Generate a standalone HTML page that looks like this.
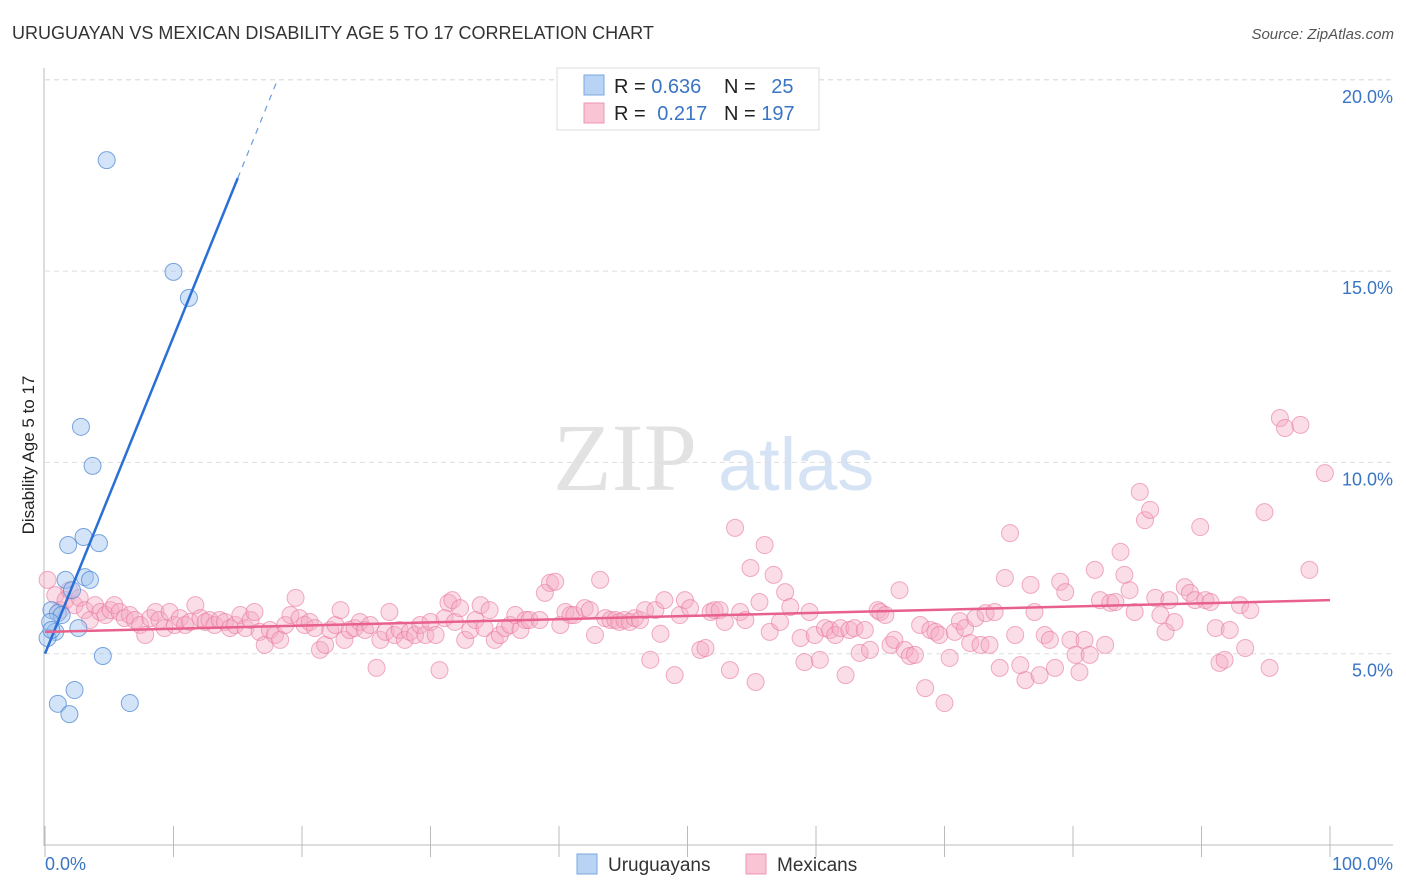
<!DOCTYPE html>
<html><head><meta charset="utf-8"><style>
body{margin:0;background:#fff;font-family:"Liberation Sans",sans-serif;}
svg{display:block}
</style></head><body>
<svg id="chart" width="1406" height="892" xmlns="http://www.w3.org/2000/svg">
<text x="12" y="39" font-size="18" fill="#333">URUGUAYAN VS MEXICAN DISABILITY AGE 5 TO 17 CORRELATION CHART</text>
<text x="1394" y="39" font-size="15" fill="#555" font-style="italic" text-anchor="end">Source: ZipAtlas.com</text>
<g>
<text x="553" y="490" font-family="Liberation Serif,serif" font-size="96" fill="#e2e2e2">ZIP</text>
<text x="718" y="490" font-size="74" fill="#d6e3f5">atlas</text>
</g>
<g id="grid"></g>
<g id="axes"></g>
<g id="pink"></g>
<g id="blue"></g>
<g id="trends"></g>
<text x="34" y="455" font-size="17" fill="#222" text-anchor="middle" transform="rotate(-90 34 455)">Disability Age 5 to 17</text>
<g>
<rect x="557" y="68" width="262" height="62" fill="#fff" stroke="#ddd"/>
<rect x="584" y="75" width="20" height="20" fill="#b9d3f4" stroke="#7aa7e0"/>
<rect x="584" y="103" width="20" height="20" fill="#f9c4d3" stroke="#ee95b0"/>
<text x="614" y="93" font-size="20" fill="#222">R = <tspan fill="#3a75c4">0.636</tspan></text>
<text x="724" y="93" font-size="20" fill="#222">N = <tspan fill="#3a75c4" dx="10">25</tspan></text>
<text x="614" y="120" font-size="20" fill="#222">R = <tspan fill="#3a75c4" dx="6">0.217</tspan></text>
<text x="724" y="120" font-size="20" fill="#222">N = <tspan fill="#3a75c4">197</tspan></text>
</g>
<g>
<rect x="577" y="854" width="20" height="20" fill="#b9d3f4" stroke="#7aa7e0"/>
<text x="608" y="871" font-size="19" fill="#333">Uruguayans</text>
<rect x="746" y="854" width="20" height="20" fill="#f9c4d3" stroke="#ee95b0"/>
<text x="777" y="871" font-size="19" fill="#333">Mexicans</text>
</g>
</svg>
<script>
const yTicks=[5,10,15,20];
const yTickLabels=["5.0%","10.0%","15.0%","20.0%"];
const xLabels=["0.0%","100.0%"];
const blueX=[4.8,10.0,11.2,2.8,3.7,3.0,1.8,4.2,3.1,3.5,1.6,0.5,1.0,1.3,0.4,0.8,0.2,0.5,2.1,2.6,4.5,2.3,1.0,1.9,6.6];
const blueY=[17.90,14.98,14.30,10.93,9.91,8.05,7.84,7.89,7.00,6.93,6.93,6.14,6.06,6.01,5.83,5.57,5.41,5.62,6.66,5.67,4.94,4.05,3.69,3.42,3.71];
const pinkX=[0.2,0.8,1.2,1.6,1.9,2.3,2.7,3.1,3.5,3.9,4.3,4.7,5.1,5.4,5.8,6.2,6.6,7.0,7.4,7.8,8.2,8.6,8.9,9.3,9.7,10.1,10.5,10.9,11.3,11.7,12.1,12.5,12.8,13.2,13.6,14.0,14.4,14.8,15.2,15.6,16.0,16.3,16.7,17.1,17.5,17.9,18.3,18.7,19.1,19.5,19.8,20.2,20.6,21.0,21.4,21.8,22.2,22.6,23.0,23.3,23.7,24.1,24.5,24.9,25.3,25.8,26.1,26.5,26.8,27.2,27.6,28.0,28.4,28.8,29.2,29.6,30.0,30.4,30.7,31.1,31.4,31.7,31.9,32.3,32.7,33.1,33.5,33.9,34.2,34.6,35.0,35.4,35.8,36.2,36.6,37.0,37.4,37.7,38.5,38.9,39.3,39.7,40.1,40.5,40.9,41.2,42.0,42.4,42.8,43.2,43.6,44.0,44.4,44.7,45.1,45.5,45.9,46.3,46.7,47.1,47.5,47.9,48.2,49.0,49.4,49.8,50.2,51.0,51.4,51.8,52.1,52.5,52.9,53.3,53.7,54.1,54.5,54.9,55.3,55.6,56.0,56.4,56.7,57.2,57.6,58.0,58.8,59.1,59.5,59.9,60.3,60.7,61.1,61.5,61.9,62.3,62.6,63.0,63.4,63.8,64.2,64.8,65.0,65.4,65.8,66.1,66.5,66.9,67.3,67.7,68.1,68.5,68.9,69.3,69.6,70.0,70.4,70.8,71.2,71.6,72.0,72.4,72.8,73.2,73.5,73.9,74.3,74.7,75.1,75.5,75.9,76.3,76.7,77.0,77.4,77.8,78.2,78.6,79.0,79.4,79.8,80.2,80.5,80.9,81.3,81.7,82.1,82.5,82.9,83.3,83.7,84.0,84.4,84.8,85.2,85.6,86.0,86.4,86.8,87.2,87.5,87.9,88.7,89.1,89.5,89.9,90.3,90.7,91.1,91.4,91.8,92.2,93.0,93.4,93.8,94.9,95.3,96.1,96.5,97.7,98.4,99.6];
const pinkY=[6.93,6.53,6.14,6.40,6.66,6.27,6.46,6.14,5.88,6.27,6.09,6.01,6.14,6.27,6.09,5.93,6.01,5.88,5.75,5.49,5.93,6.09,5.88,5.67,6.09,5.75,5.93,5.75,5.83,6.27,5.93,5.83,5.88,5.75,5.88,5.83,5.67,5.75,6.01,5.67,5.88,6.09,5.57,5.23,5.62,5.49,5.36,5.75,6.01,6.46,5.93,5.75,5.83,5.67,5.10,5.23,5.62,5.75,6.14,5.36,5.62,5.67,5.83,5.62,5.75,4.63,5.36,5.57,6.09,5.49,5.62,5.36,5.57,5.49,5.75,5.49,5.83,5.49,4.57,5.93,6.33,6.40,5.83,6.19,5.36,5.62,5.88,6.27,5.67,6.14,5.36,5.49,5.67,5.75,6.01,5.62,5.88,5.88,5.88,6.59,6.85,6.88,5.75,6.09,6.01,6.01,6.19,6.14,5.49,6.93,5.93,5.88,5.88,5.83,5.88,5.83,5.93,5.88,6.14,4.84,6.14,5.52,6.40,4.44,6.01,6.40,6.19,5.10,5.15,6.09,6.14,6.14,5.83,4.57,8.29,6.09,5.88,7.24,4.26,6.35,7.84,5.57,7.06,5.83,6.61,6.22,5.41,4.78,6.09,5.49,4.84,5.67,5.62,5.49,5.67,4.44,5.62,5.67,5.02,5.62,5.10,6.14,6.09,6.01,5.23,5.36,6.66,5.10,4.94,4.97,5.75,4.10,5.62,5.57,5.49,3.71,4.89,5.57,5.85,5.67,5.28,5.93,5.23,6.06,5.23,6.09,4.63,6.98,8.15,5.49,4.70,4.31,6.80,6.09,4.44,5.49,5.36,4.63,6.88,6.61,5.36,4.97,4.52,5.36,4.97,7.19,6.40,5.23,6.33,6.35,7.66,7.06,6.66,6.09,9.23,8.49,8.76,6.46,6.01,5.57,6.40,5.83,6.74,6.59,6.40,8.31,6.40,6.35,5.67,4.76,4.84,5.62,6.27,5.15,6.14,8.70,4.63,11.16,10.90,10.98,7.19,9.72];
const blueTrend=[0,5.0,15,17.43,18,19.92];
const pinkTrend=[0,5.57,100,6.40];

const NS="http://www.w3.org/2000/svg";
const X0=45,X1=1330,Y0=845,PXY=38.26;
function sx(v){return X0+(X1-X0)*v/100;}
function sy(v){return Y0-v*PXY;}
function mk(tag,attrs,parent){const e=document.createElementNS(NS,tag);for(const k in attrs)e.setAttribute(k,attrs[k]);document.getElementById(parent).appendChild(e);return e;}

yTicks.forEach((t,i)=>{
  const l=mk('line',{x1:45,x2:1393,y1:sy(t),y2:sy(t),stroke:'#ddd','stroke-dasharray':'5,4'},'grid');
  
  
  const tx=mk('text',{x:1393,y:sy(t)+23,'font-size':18,fill:'#3a75c4','text-anchor':'end'},'grid');
  tx.textContent=yTickLabels[i];
  
  
});
const ln=mk('line',{x1:45,x2:1393,y1:sy(20),y2:sy(20),stroke:'#ddd','stroke-dasharray':'5,4'},'grid');
mk('line',{x1:44,x2:44,y1:68,y2:846,stroke:'#bbb'},'axes');
mk('line',{x1:44,x2:1393,y1:845,y2:845,stroke:'#bbb'},'axes');
for(let i=0;i<=10;i++){
  const t=mk('line',{x1:sx(i*10),x2:sx(i*10),y1:826,y2:857,stroke:'#bbb'},'axes');
  
}
const xl0=mk('text',{x:45,y:870,'font-size':18,fill:'#3a75c4'},'axes');xl0.textContent=xLabels[0];

const xl1=mk('text',{x:1393,y:870,'font-size':18,fill:'#3a75c4','text-anchor':'end'},'axes');xl1.textContent=xLabels[1];


pinkX.forEach((x,i)=>{
  const c=mk('circle',{cx:sx(x),cy:sy(pinkY[i]),r:8.5,fill:'rgba(246,170,195,0.4)',stroke:'rgba(232,120,156,0.6)','stroke-width':1},'pink');
  
  
});
blueX.forEach((x,i)=>{
  const c=mk('circle',{cx:sx(x),cy:sy(blueY[i]),r:8.5,fill:'rgba(160,196,240,0.45)',stroke:'rgba(70,130,210,0.7)','stroke-width':1},'blue');
  
  
});
const bt1=mk('line',{x1:sx(blueTrend[0]),y1:sy(blueTrend[1]),x2:sx(blueTrend[2]),y2:sy(blueTrend[3]),stroke:'#2a6fd6','stroke-width':2.5},'trends');

const bt2=mk('line',{x1:sx(blueTrend[2]),y1:sy(blueTrend[3]),x2:sx(blueTrend[4]),y2:sy(blueTrend[5]),stroke:'#6a9be0','stroke-width':1.2,'stroke-dasharray':'6,6'},'trends');

const pt=mk('line',{x1:sx(pinkTrend[0]),y1:sy(pinkTrend[1]),x2:sx(pinkTrend[2]),y2:sy(pinkTrend[3]),stroke:'#e8608c','stroke-width':2.5},'trends');

</script>
</body></html>
